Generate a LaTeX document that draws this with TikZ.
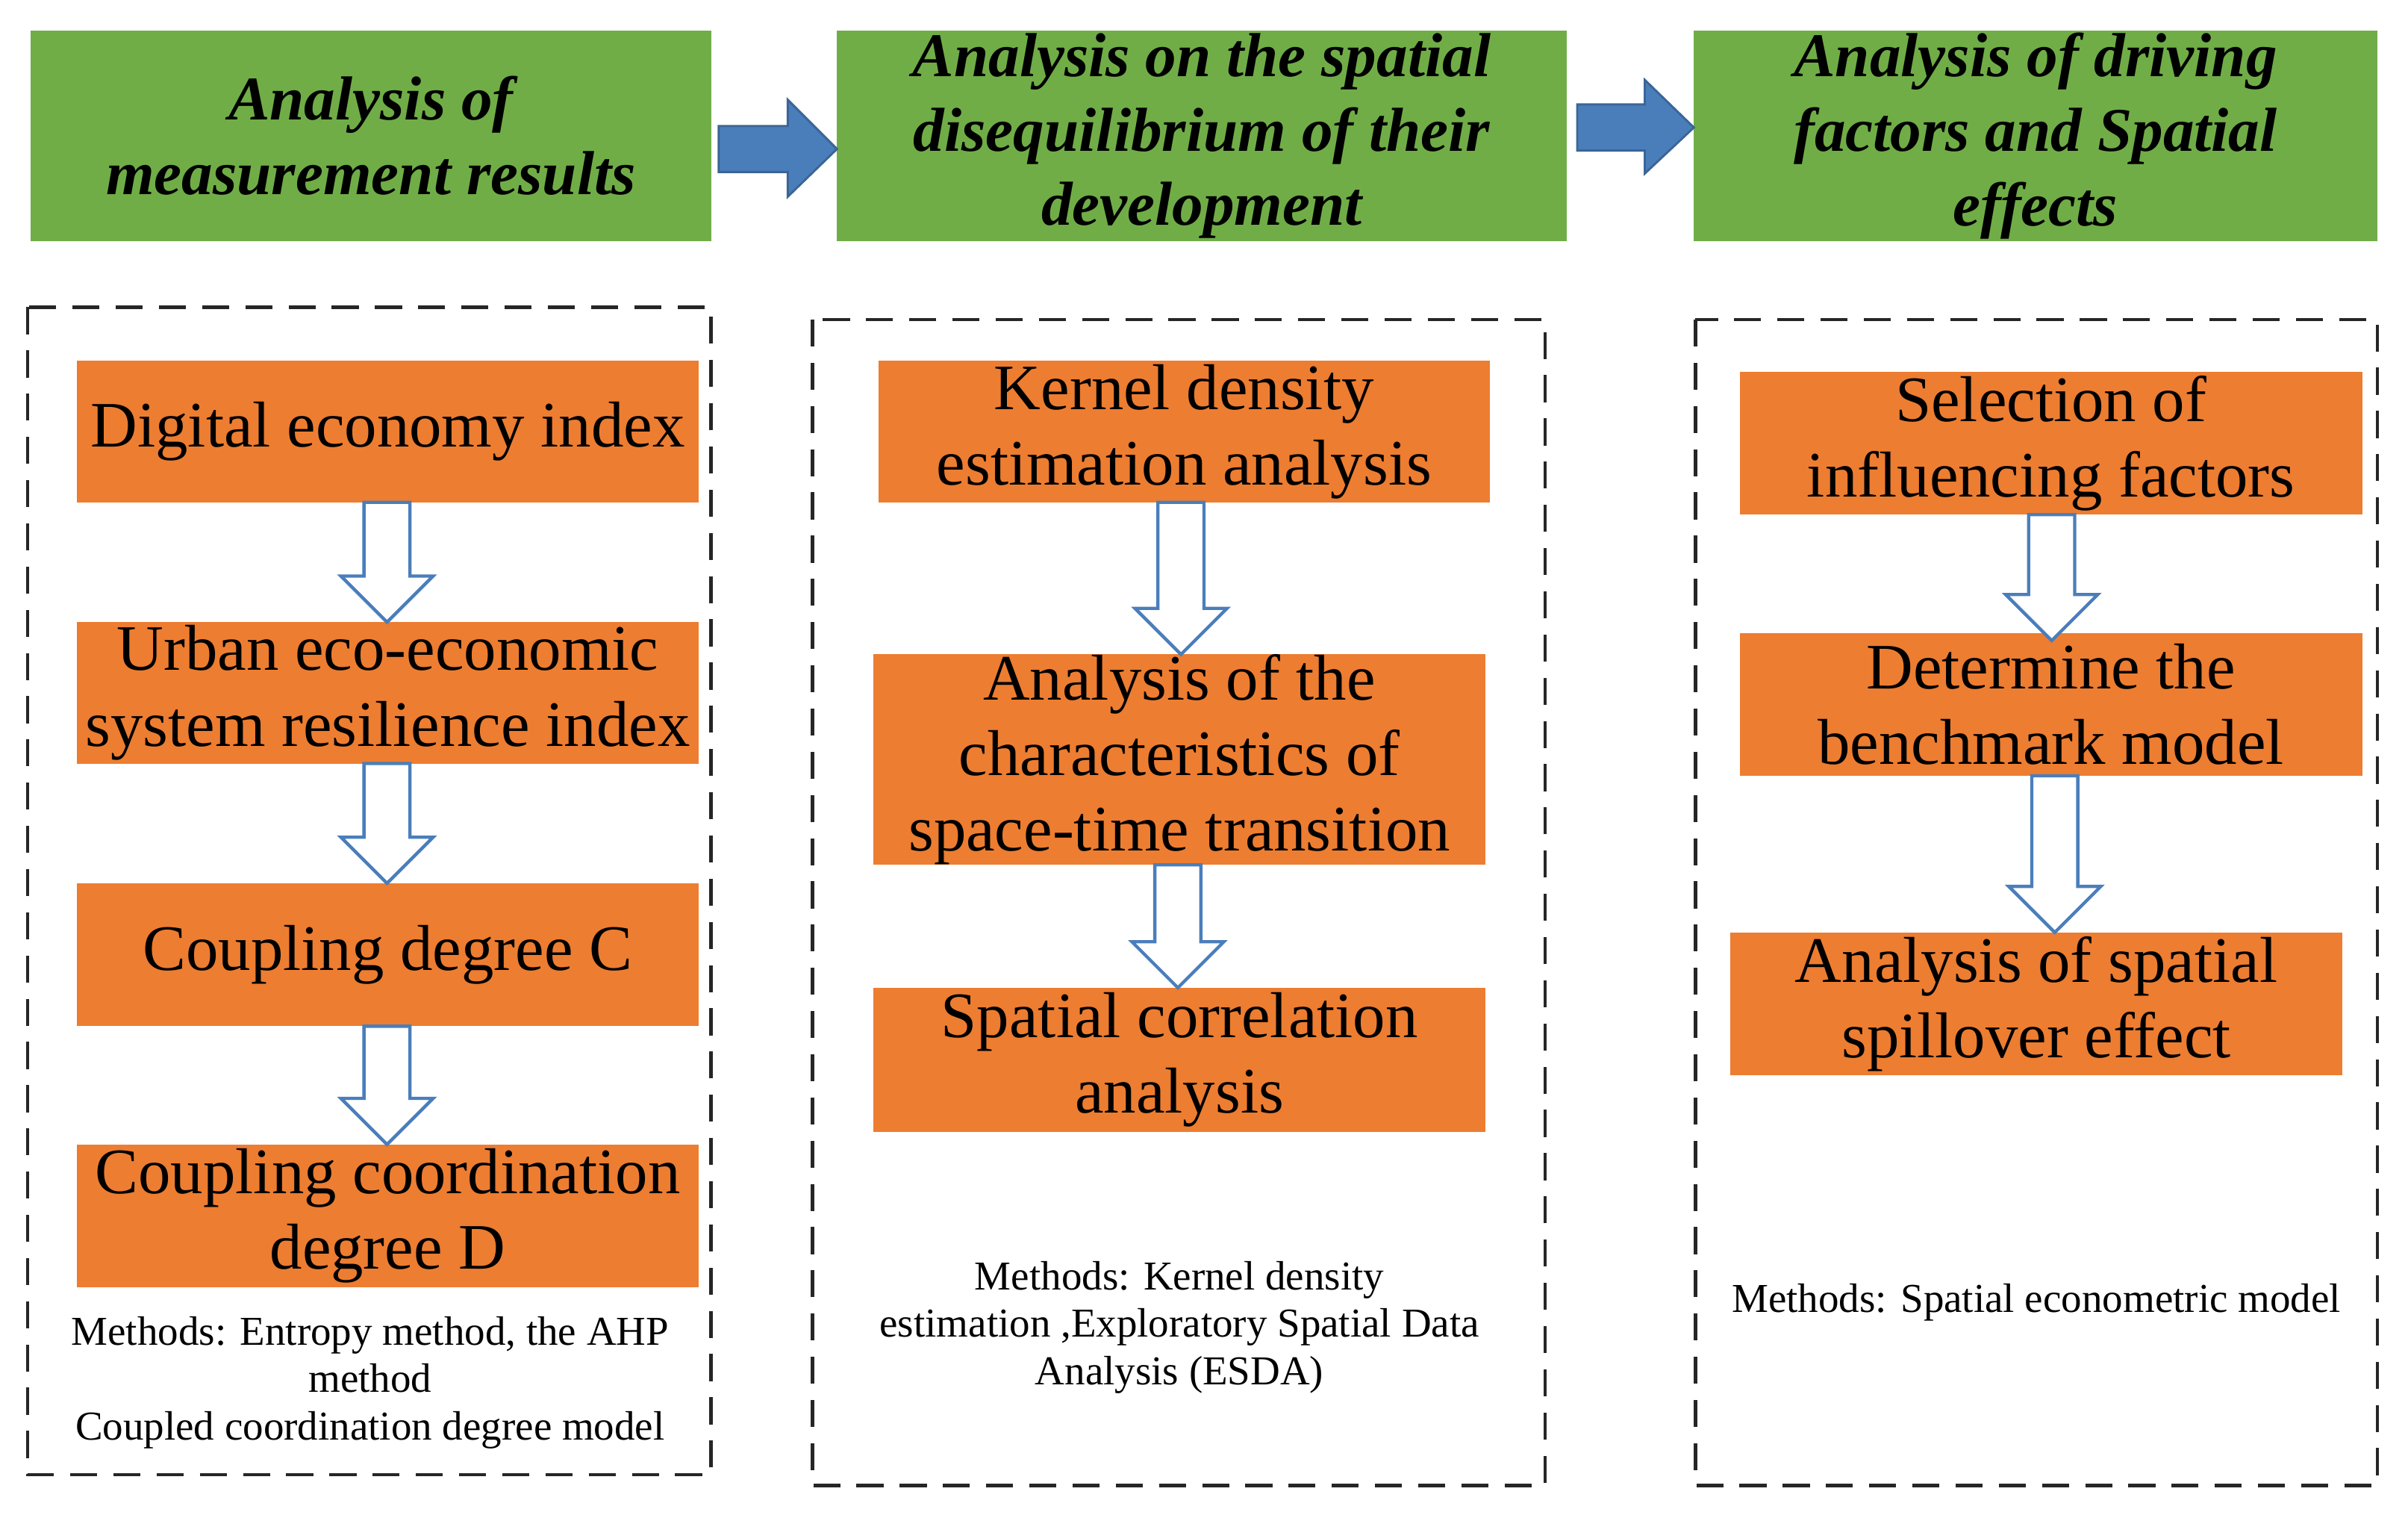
\documentclass[tikz,border=0pt]{standalone}
\usepackage{fontspec}
\setmainfont{Liberation Serif}
\begin{document}
\begin{tikzpicture}[x=0.01cm,y=-0.01cm,
 hdr/.style={fill=hdrgreen,draw=none,align=center,font=\fontsize{11.5}{13.8}\selectfont\bfseries\itshape,inner sep=0pt},
 box/.style={fill=boxorange,draw=none,align=center,font=\fontsize{12}{14}\selectfont,inner sep=0pt},
 frame/.style={draw=black!85,line width=0.6pt,dash pattern=on 5pt off 3pt},
 meth/.style={align=center,font=\fontsize{7.6}{8.8}\selectfont,inner sep=0pt},
 hol/.style={draw=arrowblue,fill=white,line width=0.6pt,line join=miter},
 sol/.style={fill=arrowblue,draw=arrowblue!80!black,line width=0.4pt}]
\definecolor{hdrgreen}{HTML}{70AD47}
\definecolor{boxorange}{HTML}{ED7D31}
\definecolor{arrowblue}{HTML}{4A7EBB}
\useasboundingbox (0,0) rectangle (1568,988);
\newcommand\hollowarrow[3]{\draw[hol] (#1-15,#2) -- (#1+15,#2) -- (#1+15,#3-30) -- (#1+30,#3-30) -- (#1,#3) -- (#1-30,#3-30) -- (#1-15,#3-30) -- cycle;}
% headers
\node[hdr,minimum width=4.43cm,minimum height=1.37cm] (h1) at (241.5,88.5) {Analysis of\\measurement results};
\node[hdr,minimum width=4.75cm,minimum height=1.37cm] (h2) at (782.5,88.5) {Analysis on the spatial\\disequilibrium of their\\development};
\node[hdr,minimum width=4.45cm,minimum height=1.37cm] (h3) at (1325.5,88.5) {Analysis of driving\\factors and Spatial\\effects};
% solid arrows
\draw[sol] (468,82) -- (513,82) -- (513,65) -- (545,97) -- (513,128) -- (513,112) -- (468,112) -- cycle;
\draw[sol] (1027,68) -- (1071,68) -- (1071,52) -- (1103,83) -- (1071,113) -- (1071,98) -- (1027,98) -- cycle;
% dashed frames
\draw[frame] (18,200) rectangle (463,960);
\draw[frame] (529,208) rectangle (1006,967);
\draw[frame] (1104,208) rectangle (1548,967);
% column 1
\node[box,minimum width=4.05cm,minimum height=0.92cm] (a1) at (252.5,281) {Digital economy index};
\node[box,minimum width=4.05cm,minimum height=0.92cm] (a2) at (252.5,451) {Urban eco-economic\\system resilience index};
\node[box,minimum width=4.05cm,minimum height=0.93cm] (a3) at (252.5,621.5) {Coupling degree C};
\node[box,minimum width=4.05cm,minimum height=0.93cm] (a4) at (252.5,791.5) {Coupling coordination\\degree D};
\hollowarrow{252}{327}{405}
\hollowarrow{252}{497}{575}
\hollowarrow{252}{668}{745}
\node[meth] (m1) at (241,900) {Methods: Entropy method, the AHP\\method\\Coupled coordination degree model};
% column 2
\node[box,minimum width=3.98cm,minimum height=0.92cm] (b1) at (771,281) {Kernel density\\estimation analysis};
\node[box,minimum width=3.98cm,minimum height=1.37cm] (b2) at (768,494.5) {Analysis of the\\characteristics of\\space-time transition};
\node[box,minimum width=3.98cm,minimum height=0.94cm] (b3) at (768,690) {Spatial correlation\\analysis};
\hollowarrow{769}{327}{426}
\hollowarrow{767}{563}{643}
\node[meth] (m2) at (768,864) {Methods: Kernel density\\estimation ,Exploratory Spatial Data\\Analysis (ESDA)};
% column 3
\node[box,minimum width=4.05cm,minimum height=0.93cm] (c1) at (1335.5,288.5) {Selection of\\influencing factors};
\node[box,minimum width=4.05cm,minimum height=0.93cm] (c2) at (1335.5,458.5) {Determine the\\benchmark model};
\node[box,minimum width=3.98cm,minimum height=0.93cm] (c3) at (1326,653.5) {Analysis of spatial\\spillover effect};
\hollowarrow{1336}{335}{417}
\hollowarrow{1338}{505}{607}
\node[meth] (m3) at (1326,848) {Methods: Spatial econometric model};
\end{tikzpicture}
\end{document}
